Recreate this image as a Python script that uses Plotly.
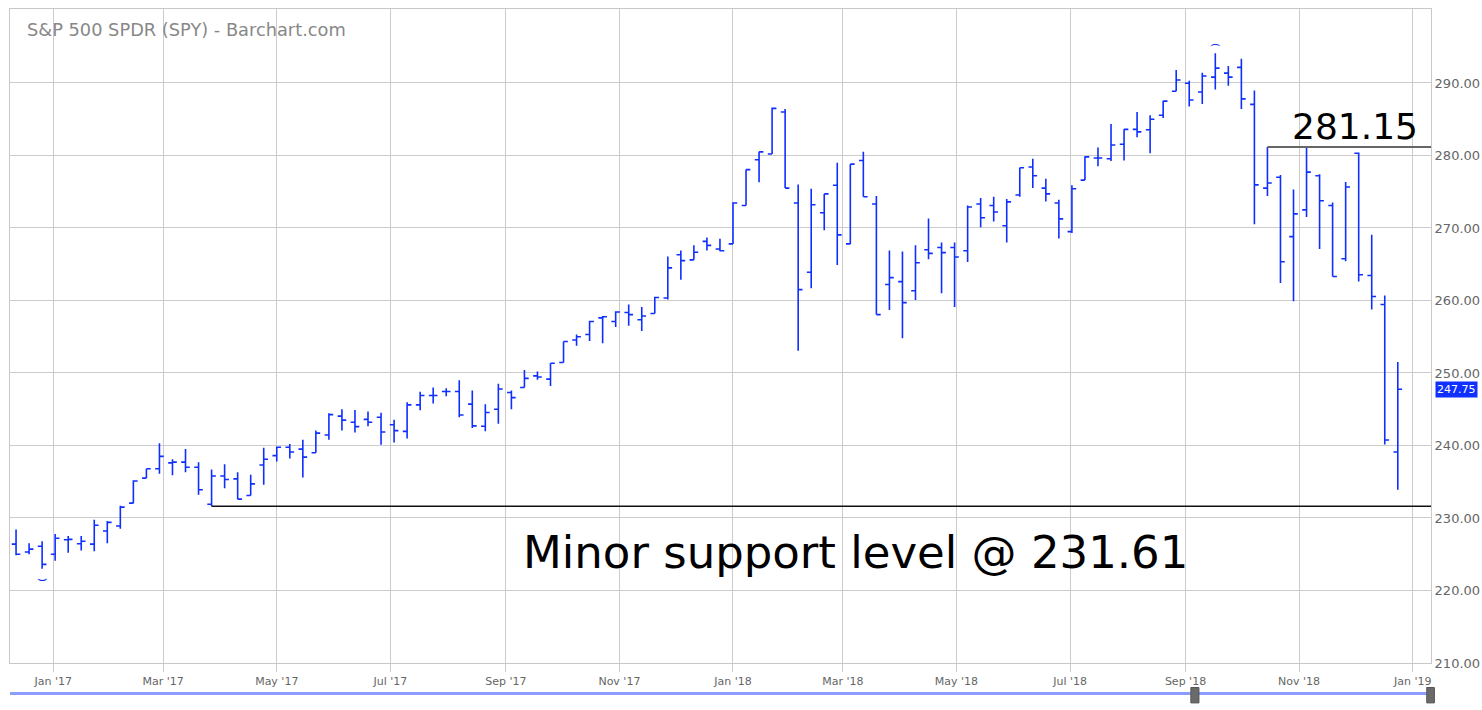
import plotly.graph_objects as go

weeks = [
    "2016-12-12", "2016-12-19", "2016-12-26",
    "2017-01-02", "2017-01-09", "2017-01-16", "2017-01-23", "2017-01-30",
    "2017-02-06", "2017-02-13", "2017-02-20", "2017-02-27",
    "2017-03-06", "2017-03-13", "2017-03-20", "2017-03-27",
    "2017-04-03", "2017-04-10", "2017-04-17", "2017-04-24",
    "2017-05-01", "2017-05-08", "2017-05-15", "2017-05-22", "2017-05-29",
    "2017-06-05", "2017-06-12", "2017-06-19", "2017-06-26",
    "2017-07-03", "2017-07-10", "2017-07-17", "2017-07-24", "2017-07-31",
    "2017-08-07", "2017-08-14", "2017-08-21", "2017-08-28",
    "2017-09-04", "2017-09-11", "2017-09-18", "2017-09-25",
    "2017-10-02", "2017-10-09", "2017-10-16", "2017-10-23", "2017-10-30",
    "2017-11-06", "2017-11-13", "2017-11-20", "2017-11-27",
    "2017-12-04", "2017-12-11", "2017-12-18", "2017-12-25",
    "2018-01-01", "2018-01-08", "2018-01-15", "2018-01-22", "2018-01-29",
    "2018-02-05", "2018-02-12", "2018-02-19", "2018-02-26",
    "2018-03-05", "2018-03-12", "2018-03-19", "2018-03-26",
    "2018-04-02", "2018-04-09", "2018-04-16", "2018-04-23", "2018-04-30",
    "2018-05-07", "2018-05-14", "2018-05-21", "2018-05-28",
    "2018-06-04", "2018-06-11", "2018-06-18", "2018-06-25",
    "2018-07-02", "2018-07-09", "2018-07-16", "2018-07-23", "2018-07-30",
    "2018-08-06", "2018-08-13", "2018-08-20", "2018-08-27",
    "2018-09-03", "2018-09-10", "2018-09-17", "2018-09-24",
    "2018-10-01", "2018-10-08", "2018-10-15", "2018-10-22", "2018-10-29",
    "2018-11-05", "2018-11-12", "2018-11-19", "2018-11-26",
    "2018-12-03", "2018-12-10", "2018-12-17", "2018-12-24",
]

opens = [
    226.40, 225.30, 226.10,
    225.00, 227.00, 226.45, 226.40, 228.20,
    228.90, 232.05, 235.50, 236.80,
    237.60, 237.70, 237.00, 231.90,
    235.80, 235.40, 233.10, 237.30,
    238.60, 239.75, 239.50, 239.00, 241.45,
    244.05, 243.20, 243.60, 243.90,
    242.85, 241.95, 245.60, 246.90, 247.45,
    247.45, 245.70, 242.65, 245.00,
    247.30, 248.00, 249.60, 249.15,
    251.45, 254.55, 255.30, 257.60, 257.10,
    258.35, 257.35, 258.20, 260.35,
    266.30, 265.60, 268.15, 267.10,
    267.80, 273.10, 279.40, 280.20, 286.00,
    273.45, 263.90, 272.10, 275.90,
    267.80, 279.30, 273.30, 262.20,
    262.60, 261.35, 267.00, 267.30, 267.30,
    266.85, 273.30, 273.10, 270.30,
    274.55, 278.40, 275.50, 273.45,
    269.50, 276.60, 279.65, 279.55, 281.55,
    283.60, 283.55, 285.55, 288.85,
    289.95, 288.75, 290.80, 291.35,
    292.15, 287.05, 275.50, 277.00, 268.80,
    272.50, 277.20, 273.10, 265.75,
    280.30, 263.45, 259.45, 239.10,
]

highs = [
    228.40, 226.50, 226.80,
    227.80, 227.50, 227.50, 229.75, 229.60,
    231.70, 235.20, 236.80, 240.30,
    238.10, 239.50, 237.70, 236.70,
    237.40, 236.30, 235.95, 239.70,
    239.85, 240.20, 240.80, 242.05, 244.45,
    245.00, 244.90, 244.70, 244.50,
    243.55, 245.95, 247.40, 248.00, 247.90,
    249.00, 247.60, 245.70, 248.50,
    247.60, 250.40, 250.20, 251.35,
    254.35, 255.30, 257.20, 257.85, 258.50,
    259.45, 259.10, 260.50, 266.05,
    266.90, 267.60, 268.70, 268.50,
    273.55, 278.05, 280.50, 286.60, 286.40,
    276.00, 275.40, 274.70, 279.00,
    278.80, 280.50, 274.40, 266.90,
    266.75, 267.60, 271.30, 268.00, 268.00,
    273.10, 274.15, 274.30, 274.00,
    278.30, 279.55, 276.80, 273.90,
    275.90, 279.90, 281.10, 284.35, 283.60,
    286.00, 285.55, 287.55, 291.80,
    290.30, 291.40, 294.10, 292.35,
    293.35, 288.95, 281.15, 277.30, 275.30,
    281.25, 277.40, 273.50, 276.35,
    280.40, 269.05, 260.70, 251.50,
]

lows = [
    224.85, 225.00, 223.00,
    224.10, 225.20, 225.50, 225.40, 226.50,
    228.50, 232.05, 235.50, 236.10,
    235.90, 236.30, 233.20, 231.61,
    234.10, 232.60, 233.10, 234.60,
    237.80, 238.20, 235.60, 239.00, 240.80,
    242.05, 241.80, 242.65, 240.10,
    240.40, 240.95, 244.85, 245.80, 246.80,
    243.90, 242.40, 241.95, 243.00,
    245.00, 248.00, 249.05, 248.20,
    251.45, 253.75, 254.40, 254.10, 256.35,
    256.50, 255.80, 258.20, 260.15,
    262.85, 265.60, 266.90, 266.80,
    267.80, 273.10, 276.30, 280.20, 275.50,
    253.05, 261.70, 269.70, 264.90,
    267.80, 274.30, 258.05, 258.70,
    254.80, 260.05, 265.70, 261.00, 259.10,
    265.30, 270.10, 270.90, 268.00,
    274.30, 275.50, 273.65, 268.55,
    269.30, 276.60, 278.50, 279.25, 279.30,
    282.50, 280.30, 285.15, 288.85,
    286.75, 287.10, 289.10, 289.60,
    286.40, 270.50, 274.40, 262.40, 259.90,
    271.50, 267.10, 263.30, 265.40,
    262.60, 258.75, 240.15, 233.90,
]

closes = [
    225.00, 225.70, 223.60,
    227.20, 227.05, 226.80, 229.00, 229.40,
    231.50, 235.10, 236.80, 238.50,
    237.70, 237.00, 233.90, 235.80,
    235.30, 232.60, 234.70, 238.10,
    239.75, 239.10, 238.40, 241.70, 244.25,
    243.50, 242.60, 243.20, 241.85,
    242.05, 245.60, 246.90, 246.90, 247.45,
    244.20, 242.70, 244.55, 247.80,
    246.60, 249.25, 249.45, 251.35,
    254.35, 255.00, 257.10, 257.75, 258.40,
    258.05, 257.85, 260.40, 264.50,
    265.50, 266.65, 267.60, 266.85,
    273.45, 278.05, 280.50, 286.50, 275.50,
    261.50, 273.20, 274.70, 269.05,
    278.80, 274.30, 258.05, 263.15,
    259.70, 265.20, 266.50, 266.60, 266.00,
    272.90, 271.40, 272.20, 273.60,
    278.30, 277.20, 274.70, 271.25,
    275.40, 279.80, 279.65, 281.45, 283.60,
    283.25, 285.00, 287.50, 290.40,
    287.65, 290.95, 292.05, 290.80,
    287.80, 275.95, 276.20, 265.35, 271.95,
    277.70, 273.75, 263.30, 275.65,
    263.55, 260.55, 240.75, 247.75,
]

x_tick_vals = ["2017-01-01", "2017-03-01", "2017-05-01", "2017-07-01", "2017-09-01",
               "2017-11-01", "2018-01-01", "2018-03-01", "2018-05-01", "2018-07-01",
               "2018-09-01", "2018-11-01", "2019-01-01"]
y_tick_vals = [210, 220, 230, 240, 250, 260, 270, 280, 290]

support_level = 231.61
support_start = "2017-03-27"
resistance_level = 281.15
resistance_start = "2018-10-15"

title_text = "S&P 500 SPDR (SPY) - Barchart.com"
x_range = ["2016-12-08 18:00", "2019-01-10 20:00"]
y_range = [210, 300.2]

BLUE = "#0f2fff"
FONT = "DejaVu Sans"

fig = go.Figure()
fig.add_trace(go.Ohlc(
    x=weeks, open=opens, high=highs, low=lows, close=closes,
    increasing=dict(line=dict(color=BLUE, width=1.6)),
    decreasing=dict(line=dict(color=BLUE, width=1.6)),
    tickwidth=0.33,
    showlegend=False,
    hoverinfo="skip",
))

shapes = [
    dict(type="line", xref="x", yref="y", x0=support_start, x1=x_range[1],
         y0=support_level, y1=support_level, line=dict(color="#111111", width=1.5)),
    dict(type="line", xref="x", yref="y", x0=resistance_start, x1=x_range[1],
         y0=resistance_level, y1=resistance_level, line=dict(color="#666666", width=2)),
    # navigator bar below the chart
    dict(type="line", xref="paper", yref="paper", x0=0, x1=1.0, y0=-0.0465, y1=-0.0465,
         line=dict(color="#8c9cff", width=3)),
    dict(type="rect", xref="paper", yref="paper", x0=0.8310, x1=0.8367, y0=-0.061, y1=-0.0375,
         fillcolor="#6a6a6a", line=dict(color="#555555", width=1)),
    dict(type="rect", xref="paper", yref="paper", x0=0.9970, x1=1.0024, y0=-0.061, y1=-0.0375,
         fillcolor="#6a6a6a", line=dict(color="#555555", width=1)),
]

annotations = [
    dict(text=title_text, xref="paper", yref="paper", x=0.0106, y=0.9694,
         xanchor="left", yanchor="middle", showarrow=False,
         font=dict(family=FONT, size=17.8, color="#888888")),
    dict(text=f"{resistance_level:.2f}", xref="paper", yref="y", x=0.9922, y=283.97,
         xanchor="right", yanchor="middle", showarrow=False,
         font=dict(family=FONT, size=36, color="#000000")),
    dict(text=f"Minor support level @ {support_level:.2f}", xref="x", yref="y",
         x="2018-03-08", y=225.2, xanchor="center", yanchor="middle", showarrow=False,
         font=dict(family=FONT, size=45, color="#000000")),
    dict(text=f"{closes[-1]:.2f}", xref="paper", yref="y", x=1.0, y=closes[-1],
         xanchor="left", yanchor="middle", xshift=4, showarrow=False,
         bgcolor="#1030ff", borderpad=1,
         font=dict(family=FONT, size=11, color="#ffffff")),
    dict(text="\u2323", xref="x", yref="y", x=weeks[2], y=lows[2], yanchor="top",
         yshift=2, showarrow=False, font=dict(family=FONT, size=16, color=BLUE)),
    dict(text="\u2322", xref="x", yref="y", x=weeks[92], y=highs[92], yanchor="bottom",
         yshift=-2, showarrow=False, font=dict(family=FONT, size=16, color=BLUE)),
]

fig.update_layout(
    width=1482, height=710,
    margin=dict(l=10, r=51, t=9, b=47, autoexpand=False),
    paper_bgcolor="#ffffff", plot_bgcolor="#ffffff",
    font=dict(family=FONT, color="#666666"),
    shapes=shapes, annotations=annotations,
    hovermode=False,
    xaxis=dict(
        type="date", range=x_range, tickvals=x_tick_vals, tickformat="%b '%y",
        showgrid=True, gridcolor="#cccccc", gridwidth=1,
        ticks="outside", ticklen=8, tickcolor="#cccccc",
        tickfont=dict(family=FONT, size=11, color="#666666"),
        showline=True, linecolor="#c8c8c8", mirror=True, automargin=False,
        rangeslider=dict(visible=False), zeroline=False, fixedrange=True,
    ),
    yaxis=dict(
        side="right", range=y_range, tickvals=y_tick_vals, tickformat=".2f",
        showgrid=True, gridcolor="#cccccc", gridwidth=1,
        ticks="", ticklabelstandoff=0, automargin=False,
        tickfont=dict(family=FONT, size=13, color="#666666"),
        showline=True, linecolor="#c8c8c8", mirror=True, zeroline=False, fixedrange=True,
    ),
)

fig.write_html("out.html", config={"displayModeBar": False},
               post_script="document.body.style.margin='0';document.body.style.overflow='hidden';")
